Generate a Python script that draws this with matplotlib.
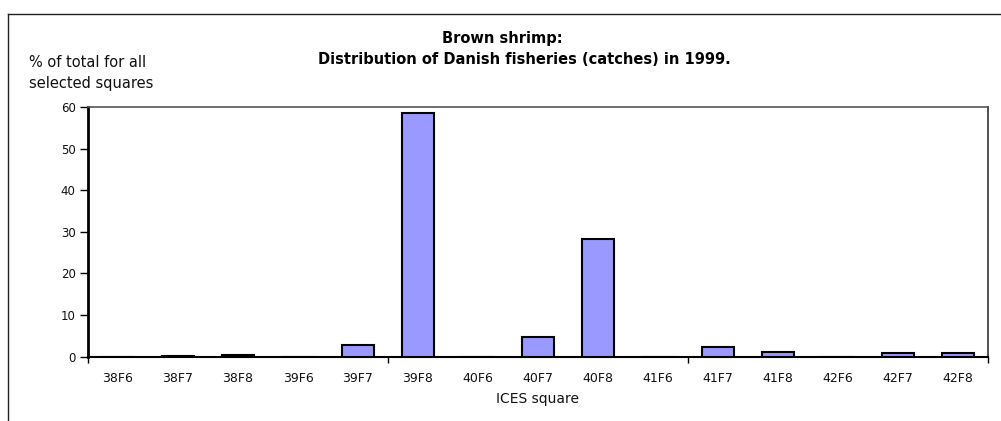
import matplotlib
matplotlib.use("Agg")
import matplotlib.pyplot as plt
from matplotlib.lines import Line2D

squares = ["38F6", "38F7", "38F8", "39F6", "39F7", "39F8", "40F6", "40F7",
           "40F8", "41F6", "41F7", "41F8", "42F6", "42F7", "42F8"]
percent = [0.0, 0.1, 0.5, 0.0, 2.8, 58.6, 0.0, 4.8,
           28.2, 0.0, 2.3, 1.2, 0.0, 0.9, 0.9]
y_ticks = [0, 10, 20, 30, 40, 50, 60]

title1 = "Brown shrimp:"
title2 = "Distribution of Danish fisheries (catches) in 1999."
ylabel = "% of total for all\nselected squares"
xlabel = "ICES square"

plt.rcParams['font.family'] = ['DejaVu Sans']

fig = plt.figure(figsize=(10.01, 4.21), dpi=100)
ax = fig.add_axes([88/1001, 64.3/421, 900/1001, 249.7/421])

x = list(range(len(squares)))
ax.bar(x, percent, width=0.54, color="#9999FF", edgecolor="black", linewidth=1.5, zorder=3)

ax.set_xlim(-0.5, len(squares) - 0.5)
ax.set_ylim(0, 60)
ax.set_yticks(y_ticks)
ax.set_yticklabels([str(v) for v in y_ticks], fontsize=8.5, color='#111111')
ax.tick_params(axis='y', direction='out', length=6, width=1, pad=3)

ax.set_xticks(x)
ax.set_xticklabels(squares, fontsize=9, color='#111111')
ax.tick_params(axis='x', which='major', length=0, pad=11)
ax.set_xticks([-0.5, 4.5, 9.5, 14.5], minor=True)
ax.tick_params(axis='x', which='minor', direction='out', length=4, width=1)

ax.spines['left'].set_linewidth(2)
ax.spines['left'].set_color('black')
ax.spines['bottom'].set_linewidth(1.5)
ax.spines['bottom'].set_color('black')
ax.spines['top'].set_linewidth(1.2)
ax.spines['top'].set_color('#555555')
ax.spines['right'].set_linewidth(1.2)
ax.spines['right'].set_color('#333333')

ax.set_xlabel(xlabel, fontsize=10, labelpad=5, color='#111111')

fig.text(502/1001, 1 - 38/421, title1, ha='center', va='center', fontsize=10.5, fontweight='bold')
fig.text(524/1001, 1 - 59/421, title2, ha='center', va='center', fontsize=10.5, fontweight='bold')
fig.text(29/1001, 1 - 73/421, ylabel, ha='left', va='center', fontsize=10.5, linespacing=1.45,
         color='#111111')

# outer chart border (top and left edges)
fig.add_artist(Line2D([8/1001, 1.0], [1 - 14/421, 1 - 14/421], transform=fig.transFigure,
                      color='#222222', linewidth=1))
fig.add_artist(Line2D([8/1001, 8/1001], [0, 1 - 14/421], transform=fig.transFigure,
                      color='#222222', linewidth=1))

fig.savefig("out.png", dpi=100)
